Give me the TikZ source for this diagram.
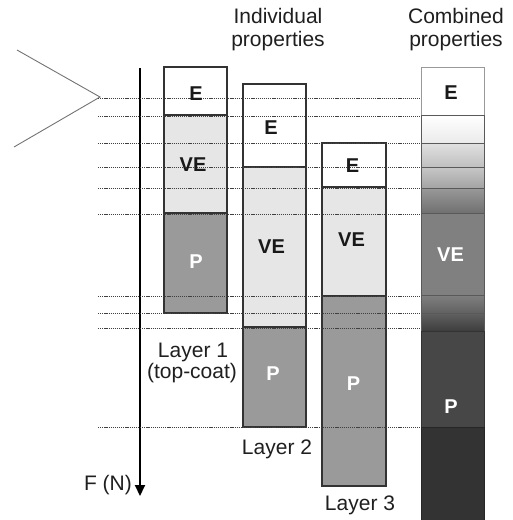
\documentclass[tikz,border=0pt]{standalone}
\usepackage{fontspec}
\setmainfont{Liberation Sans}
\usetikzlibrary{arrows.meta}
\definecolor{vefill}{HTML}{E6E6E6}
\definecolor{pfill}{HTML}{9A9A9A}
\definecolor{edge}{HTML}{333333}
\begin{document}
\begin{tikzpicture}[x=1pt,y=-1pt,
  box/.style={draw=edge, line width=1.3pt},
  band/.style={draw=black!65, line width=1pt},
  guide/.style={draw=black!75, line width=0.9pt, dash pattern=on 1.2pt off 0.9pt},
  lab/.style={font=\fontsize{20}{24}\selectfont\bfseries, inner sep=0pt, text=black!90},
  wlab/.style={lab, text=white},
  txt/.style={font=\fontsize{21}{25}\selectfont, inner sep=0pt, anchor=base, text=black!88},
  ]
\useasboundingbox (0,0) rectangle (512,520);

% triangle pointer
\coordinate (t1) at (17,50);
\coordinate (apex) at (100,97);
\coordinate (t2) at (14,147);
\draw[black!55, line width=0.9pt] (t1) -- (apex) -- (t2);

% force axis
\coordinate (axtop) at (140,68);
\coordinate (axbot) at (140,496);
\draw[line width=2pt, -{Triangle[length=11pt,width=10pt]}] (axtop) -- (axbot);

% Layer 1
\path[box, fill=white]  (164,67)  rectangle (227,115);
\path[box, fill=vefill] (164,115) rectangle (227,213);
\path[box, fill=pfill]  (164,213) rectangle (227,313);
% Layer 2
\path[box, fill=white]  (243,84)  rectangle (306,167);
\path[box, fill=vefill] (243,167) rectangle (306,327);
\path[box, fill=pfill]  (243,327) rectangle (306,427);
% Layer 3
\path[box, fill=white]  (322,143) rectangle (386,187);
\path[box, fill=vefill] (322,187) rectangle (386,296);
\path[box, fill=pfill]  (322,296) rectangle (386,486);

% Combined column
\path[draw=black!40, line width=1pt, fill=white] (421,67) rectangle (484,115);
\shade[band, top color=white, bottom color=black!8] (421,115) rectangle (484,143);
\shade[band, top color=black!12, bottom color=black!25] (421,143) rectangle (484,167);
\shade[band, top color=black!22, bottom color=black!36] (421,167) rectangle (484,188);
\shade[band, top color=black!40, bottom color=black!56] (421,188) rectangle (484,213);
\path[band, fill=black!50] (421,213) rectangle (484,295);
\shade[band, top color=black!50, bottom color=black!62] (421,295) rectangle (484,313);
\shade[band, top color=black!62, bottom color=black!76] (421,313) rectangle (484,331);
\path[band, draw=black!80, fill=black!72] (421,331) rectangle (484,427);
\path[band, draw=black!85, fill=black!80] (421,427) rectangle (484,520);

% guide lines
\foreach \y [count=\i] in {98,116,143,167,188,214,296,313,328,427} {
  \coordinate (gl\i) at (98,\y);
  \coordinate (gr\i) at (420,\y);
  \draw[guide] (gl\i) -- (gr\i);
}

% labels inside boxes
\node[lab]  (l1e)  at (196,93.5) {E};
\node[lab]  (l1ve) at (193,165) {VE};
\node[wlab] (l1p)  at (196,262) {P};
\node[lab]  (l2e)  at (271,128) {E};
\node[lab]  (l2ve) at (271.5,247) {VE};
\node[wlab] (l2p)  at (273,374) {P};
\node[lab]  (l3e)  at (352.5,166) {E};
\node[lab]  (l3ve) at (351.5,240) {VE};
\node[wlab] (l3p)  at (353.5,384) {P};
\node[lab]  (ce)   at (451,92.5) {E};
\node[wlab] (cve)  at (450.5,255) {VE};
\node[wlab] (cp)   at (451,407) {P};

% captions
\node[txt] (ind1) at (278,23) {Individual};
\node[txt] (ind2) at (278,46) {properties};
\node[txt] (com1) at (456,23) {Combined};
\node[txt] (com2) at (456,46) {properties};
\node[txt] (lay1a) at (193,357) {Layer 1};
\node[txt] (lay1b) at (192,378) {(top-coat)};
\node[txt] (lay2) at (277,454) {Layer 2};
\node[txt] (lay3) at (360,510) {Layer 3};
\node[txt] (force) at (108,490) {F (N)};
\end{tikzpicture}
\end{document}
